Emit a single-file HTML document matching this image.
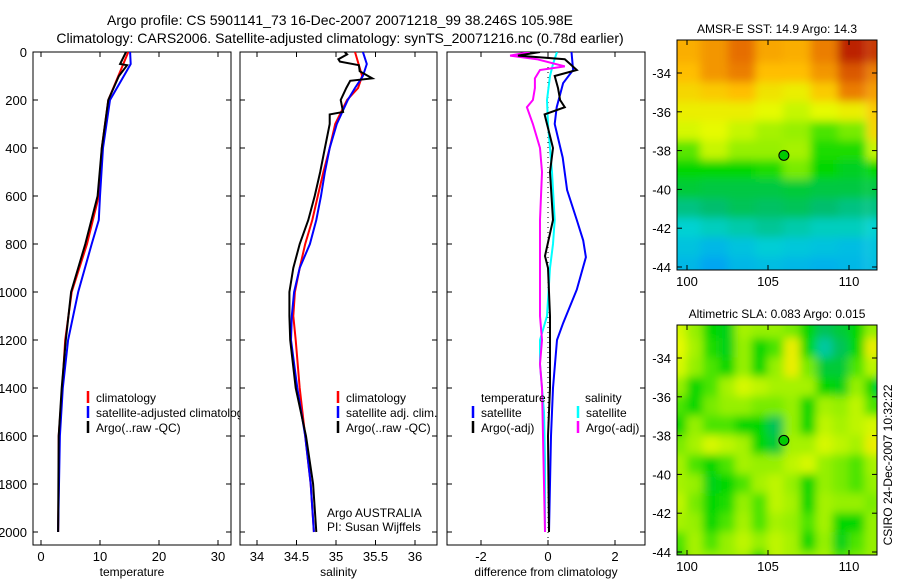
<!DOCTYPE html>
<html><head><meta charset="utf-8"><style>
body{margin:0;background:#fff}
svg{display:block;font-family:"Liberation Sans",sans-serif}
</style></head><body>
<svg id="fig" width="900" height="580" viewBox="0 0 900 580">
<defs>
<filter id="blur" filterUnits="userSpaceOnUse" x="600" y="0" width="300" height="580"><feGaussianBlur stdDeviation="4.5"/></filter>
<clipPath id="c1"><rect x="33" y="52" width="198" height="493"/></clipPath>
<clipPath id="c1l"><rect x="33" y="52" width="207" height="493"/></clipPath>
<clipPath id="c2"><rect x="240" y="52" width="197" height="493"/></clipPath>
<clipPath id="c3"><rect x="447" y="52" width="198" height="493"/></clipPath>
<clipPath id="m1"><rect x="677" y="40" width="200" height="230"/></clipPath>
<clipPath id="m2"><rect x="677" y="325" width="200" height="230"/></clipPath>
</defs>
<text x="340" y="25" font-size="14" text-anchor="middle">Argo profile: CS 5901141_73 16-Dec-2007 20071218_99 38.246S 105.98E</text>
<text x="340" y="43" font-size="14" text-anchor="middle">Climatology: CARS2006. Satellite-adjusted climatology: synTS_20071216.nc (0.78d earlier)</text>
<g id="layer"></g>
</svg>
<script>
// ---- profile data (depth in m) ----
const tempDepthRed=[0,200,400,600,800,1000,1200,1400,1600,1800,2000];
const tempRed=[14.8,11.4,10.3,9.8,7.8,5.2,4.1,3.6,3.0,3.0,2.9];
const tempDepthBlue=[0,50,200,400,600,700,800,1000,1200,1400,1600,2000];
const tempBlue=[15.1,15.2,11.7,10.5,10.0,9.8,8.6,6.3,4.6,3.7,3.2,2.9];
const tempDepthBlack=[0,50,55,100,200,400,600,800,1000,1200,1400,1600,2000];
const tempBlack=[14.4,13.4,14.6,13.2,11.4,10.3,9.6,7.5,5.1,4.2,3.5,3.0,2.9];

const salDepthBlack=[0,10,30,40,55,80,110,120,150,200,250,260,300,400,500,600,700,800,900,1000,1100,1200,1400,1600,1800,2000];
const salBlack=[35.11,35.14,35.03,35.05,35.29,35.30,35.46,35.18,35.13,35.06,35.09,34.92,34.92,34.86,34.80,34.73,34.65,34.54,34.46,34.41,34.41,34.42,34.49,34.62,34.71,34.75];
const salDepthRed=[0,100,150,200,300,400,500,600,700,800,900,1000,1100,1200,1400,1600,1800,2000];
const salRed=[35.24,35.33,35.28,35.14,34.99,34.92,34.84,34.77,34.70,34.61,34.54,34.48,34.46,34.49,34.54,34.61,34.68,34.72];
const salDepthBlue=[0,50,100,150,200,300,400,500,600,700,800,900,1000,1100,1200,1400,1600,1800,2000];
const salBlue=[35.34,35.39,35.34,35.24,35.15,35.01,34.92,34.86,34.81,34.75,34.67,34.54,34.47,34.44,34.43,34.51,34.61,34.68,34.72];

const diffDepthTSat=[0,75,130,230,300,440,575,700,785,855,990,1130,1200,1400,1600,2000];
const diffTSat=[0.7,0.75,0.45,0.26,0.2,0.44,0.57,0.86,1.05,1.13,0.86,0.45,0.27,0.15,0.09,0.03];
const diffDepthTArgo=[0,15,30,75,100,150,200,230,260,300,400,500,700,850,900,1100,1200,1400,1600,2000];
const diffTArgo=[-0.24,-0.9,0.5,0.86,0.2,0.3,0.36,0.5,-0.1,-0.03,0.15,0.06,0.15,-0.09,0.0,0.06,0.06,0.06,0.0,0.03];
const diffDepthSArgo=[0,15,30,60,75,110,150,200,230,300,400,500,700,900,1100,1200,1300,1400,1600,2000];
const diffSArgo=[-0.54,-1.13,-0.33,0.5,-0.24,-0.39,-0.39,-0.45,-0.63,-0.45,-0.24,-0.18,-0.24,-0.24,-0.24,-0.18,-0.24,-0.18,-0.15,-0.09];
const diffDepthSSat=[0,50,100,200,300,500,700,800,900,1100,1200,1300,1500,1700,2000];
const diffSSat=[0.27,0.15,0.06,-0.03,0.0,0.12,0.2,0.15,0.06,-0.03,-0.24,-0.24,-0.12,-0.09,-0.09];

// ---- map data (normalized colour value, rows north->south) ----
const sstLats=[-33,-34,-35,-36,-37,-38,-39,-40,-41,-42,-43,-44];
const sstLons=[100,101.7,103.4,105.1,106.8,108.5,110.2,112];
const sstRows=[
[0.82,0.85,0.9,0.83,0.82,0.88,0.97,0.95],
[0.8,0.85,0.88,0.8,0.8,0.85,0.92,0.88],
[0.76,0.78,0.8,0.74,0.72,0.78,0.88,0.84],
[0.72,0.72,0.72,0.7,0.66,0.7,0.72,0.78],
[0.68,0.7,0.66,0.62,0.6,0.55,0.58,0.76],
[0.56,0.66,0.6,0.6,0.62,0.52,0.52,0.66],
[0.5,0.5,0.5,0.52,0.58,0.5,0.47,0.5],
[0.45,0.44,0.44,0.44,0.45,0.44,0.44,0.44],
[0.38,0.4,0.42,0.41,0.42,0.4,0.38,0.38],
[0.3,0.32,0.34,0.36,0.34,0.32,0.32,0.3],
[0.24,0.2,0.24,0.28,0.26,0.24,0.22,0.24],
[0.2,0.14,0.2,0.22,0.2,0.18,0.2,0.22]];
const slaLats=[-32.5,-33.5,-34.5,-35.5,-36.5,-37.5,-38.5,-39.5,-40.5,-41.5,-42.5,-43.5,-44.5];
const slaLons=[99.5,100.5,101.5,102.5,103.5,104.5,105.5,106.5,107.5,108.5,109.5,110.5,111.5,112.5];
const slaRows=[
[0.68,0.6,0.5,0.48,0.62,0.6,0.6,0.58,0.5,0.42,0.45,0.5,0.6,0.55],
[0.7,0.62,0.52,0.48,0.6,0.5,0.55,0.72,0.5,0.35,0.42,0.5,0.72,0.55],
[0.68,0.6,0.55,0.5,0.6,0.5,0.6,0.72,0.58,0.45,0.45,0.55,0.65,0.5],
[0.6,0.5,0.55,0.62,0.68,0.65,0.62,0.62,0.62,0.5,0.48,0.6,0.5,0.35],
[0.55,0.5,0.58,0.6,0.6,0.58,0.58,0.6,0.5,0.62,0.6,0.65,0.55,0.5],
[0.5,0.6,0.55,0.55,0.5,0.5,0.42,0.6,0.5,0.65,0.62,0.65,0.68,0.62],
[0.58,0.62,0.68,0.65,0.62,0.5,0.45,0.62,0.62,0.68,0.65,0.62,0.72,0.7],
[0.62,0.55,0.5,0.55,0.62,0.6,0.6,0.65,0.68,0.6,0.58,0.55,0.62,0.65],
[0.62,0.6,0.48,0.5,0.55,0.62,0.65,0.6,0.5,0.6,0.58,0.55,0.6,0.6],
[0.65,0.58,0.5,0.52,0.6,0.55,0.65,0.62,0.5,0.62,0.6,0.6,0.58,0.62],
[0.62,0.6,0.5,0.55,0.62,0.55,0.62,0.6,0.55,0.62,0.5,0.5,0.6,0.55],
[0.55,0.62,0.55,0.6,0.65,0.6,0.65,0.62,0.5,0.6,0.48,0.55,0.6,0.55],
[0.5,0.62,0.6,0.6,0.62,0.5,0.65,0.62,0.6,0.62,0.55,0.58,0.6,0.5]];

const depthTicks=[0,200,400,600,800,1000,1200,1400,1600,1800,2000];
const tempTicks=[0,10,20,30];
const salTicks=[34,34.5,35,35.5,36];
const diffTicks=[-2,0,2];
const latTicks=[-34,-36,-38,-40,-42,-44];
const lonTicks=[100,105,110];

const NS="http://www.w3.org/2000/svg";
const layer=document.getElementById('layer');
function mk(tag,attrs,parent){const e=document.createElementNS(NS,tag);for(const k in attrs)e.setAttribute(k,attrs[k]);(parent||layer).appendChild(e);return e;}
const yD=d=>52+d*0.24;
const xT=v=>41+v*5.9;
const xS=v=>257+(v-34)*79;
const xDf=v=>548+v*33.5;

function line(xs,ds,fx,color,clip,name,w){
  const pts=xs.map((v,i)=>fx(v).toFixed(1)+","+yD(ds[i]).toFixed(1)).join(" ");
  const p=mk('polyline',{points:pts,fill:'none',stroke:color,'stroke-width':w||2,'clip-path':'url(#'+clip+')'});
  
  
}
function panel(x,w,ticks,fx,tickFmt,xlabel,name,showY){
  const g=mk('g',{});
  
  
  mk('rect',{x:x,y:52,width:w,height:493,fill:'none',stroke:'#000','stroke-width':1},g);
  depthTicks.forEach(d=>{
    mk('line',{x1:x,x2:x+5,y1:yD(d),y2:yD(d),stroke:'#000'},g);
    mk('line',{x1:x+w-5,x2:x+w,y1:yD(d),y2:yD(d),stroke:'#000'},g);
    if(showY){const t=mk('text',{x:x-6,y:yD(d)+5,'font-size':13,'text-anchor':'end'},g);t.textContent=d;
      
      }
  });
  ticks.forEach(v=>{
    const px=fx(v);
    mk('line',{x1:px,x2:px,y1:52,y2:57,stroke:'#000'},g);
    mk('line',{x1:px,x2:px,y1:540,y2:545,stroke:'#000'},g);
    const t=mk('text',{x:px,y:561,'font-size':13,'text-anchor':'middle'},g);t.textContent=tickFmt(v);
    
    
  });
  const l=mk('text',{x:x+w/2,y:576,'font-size':12,'text-anchor':'middle'},g);l.textContent=xlabel;
  
  
}
panel(33,198,tempTicks,xT,v=>v,'temperature','temperature-panel',true);
panel(240,197,salTicks,xS,v=>v,'salinity','salinity-panel',false);
panel(447,198,diffTicks,xDf,v=>v,'difference from climatology','difference-panel',false);

const z=mk('line',{x1:xDf(0),x2:xDf(0),y1:52,y2:545,stroke:'#000','stroke-dasharray':'1,4'});



line(tempRed,tempDepthRed,xT,'#f00','c1','temp-climatology-line');
line(tempBlue,tempDepthBlue,xT,'#00f','c1','temp-satellite-line');
line(tempBlack,tempDepthBlack,xT,'#000','c1','temp-argo-line');
line(salRed,salDepthRed,xS,'#f00','c2','sal-climatology-line');
line(salBlue,salDepthBlue,xS,'#00f','c2','sal-satellite-line');
line(salBlack,salDepthBlack,xS,'#000','c2','sal-argo-line');
line(diffTSat,diffDepthTSat,xDf,'#00f','c3','diff-temp-satellite-line');
line(diffSSat,diffDepthSSat,xDf,'#0ff','c3','diff-sal-satellite-line');
line(diffSArgo,diffDepthSArgo,xDf,'#f0f','c3','diff-sal-argo-line');
line(diffTArgo,diffDepthTArgo,xDf,'#000','c3','diff-temp-argo-line');

function legend(x,y,items,clip,name){
  const g=mk('g',{'clip-path':'url(#'+clip+')'});
  
  
  items.forEach((it,i)=>{
    const yy=y+i*15;
    if(it[0]) mk('line',{x1:x,x2:x,y1:yy-11,y2:yy+1,stroke:it[0],'stroke-width':2.5},g);
    const t=mk('text',{x:x+(it[0]?8:0),y:yy,'font-size':12},g);t.textContent=it[1];
  });
}
legend(88,402,[['#f00','climatology'],['#00f','satellite-adjusted climatology'],['#000','Argo(..raw -QC)']],'c1l','temp-legend');
legend(338,402,[['#f00','climatology'],['#00f','satellite adj. clim.'],['#000','Argo(..raw -QC)']],'c2','sal-legend');
legend(481,402,[[null,'temperature']],'c3','diff-legend-temp-head');
legend(473,417,[['#00f','satellite'],['#000','Argo(-adj)']],'c3','diff-legend-temp');
legend(585,402,[[null,'salinity']],'c3','diff-legend-sal-head');
legend(578,417,[['#0ff','satellite'],['#f0f','Argo(-adj)']],'c3','diff-legend-sal');
const a1=mk('text',{x:327,y:517,'font-size':12});a1.textContent='Argo AUSTRALIA';


const a2=mk('text',{x:327,y:531,'font-size':12});a2.textContent='PI: Susan Wijffels';



// custom colormap (blue -> cyan -> green -> yellow -> orange -> dark red)
const cmStops=[[0,[0,110,255]],[0.15,[0,170,240]],[0.3,[0,210,210]],[0.4,[0,190,110]],[0.5,[0,215,0]],[0.6,[150,240,0]],[0.7,[230,250,0]],[0.8,[255,190,0]],[0.9,[230,110,0]],[1,[170,0,0]]];
function cmap(v){
  v=Math.max(0,Math.min(1,v));
  for(let i=1;i<cmStops.length;i++){
    if(v<=cmStops[i][0]){
      const a=cmStops[i-1],b=cmStops[i],t=(v-a[0])/(b[0]-a[0]);
      const c=a[1].map((x,k)=>Math.round(x+(b[1][k]-x)*t));
      return `rgb(${c[0]},${c[1]},${c[2]})`;
    }
  }
}
function map(y0,lats,lons,rows,title,name,clip){
  const yL=lat=>y0+33+(-34-lat)*19.4;
  const xL=lon=>687+(lon-100)*16.2;
  const g=mk('g',{});
  
  
  const cg=mk('g',{'clip-path':'url(#'+clip+')'},g);
  const hg=mk('g',{filter:'url(#blur)'},cg);
  const dx=(lons[1]-lons[0]),dy=Math.abs(lats[1]-lats[0]);
  const nr=rows.length,nc=rows[0].length;
  rows.forEach((row,i)=>row.forEach((v,j)=>{
    let x0=xL(lons[j]-dx/2)-0.5,x1=xL(lons[j]+dx/2)+0.5;
    let ya=yL(lats[i]+dy/2)-0.5,yb=yL(lats[i]-dy/2)+0.5;
    if(j===0)x0-=30; if(j===nc-1)x1+=30;
    if(i===0)ya-=30; if(i===nr-1)yb+=30;
    const r=mk('rect',{x:x0,y:ya,width:x1-x0,height:yb-ya,fill:cmap(v)},hg);
    
    
  }));
  mk('circle',{cx:xL(105.98),cy:yL(-38.246),r:5,fill:'#0c0',stroke:'#000','stroke-width':1},g);
  mk('rect',{x:677,y:y0,width:200,height:230,fill:'none',stroke:'#000'},g);
  latTicks.forEach(l=>{
    mk('line',{x1:677,x2:682,y1:yL(l),y2:yL(l),stroke:'#000'},g);
    mk('line',{x1:872,x2:877,y1:yL(l),y2:yL(l),stroke:'#000'},g);
    const t=mk('text',{x:671,y:yL(l)+5,'font-size':13,'text-anchor':'end'},g);t.textContent=l;
  });
  lonTicks.forEach(l=>{
    mk('line',{x1:xL(l),x2:xL(l),y1:y0+225,y2:y0+230,stroke:'#000'},g);
    mk('line',{x1:xL(l),x2:xL(l),y1:y0,y2:y0+5,stroke:'#000'},g);
    const t=mk('text',{x:xL(l),y:y0+246,'font-size':13,'text-anchor':'middle'},g);t.textContent=l;
  });
  const t=mk('text',{x:777,y:y0-7,'font-size':12,'text-anchor':'middle'},g);t.textContent=title;
}
map(40,sstLats,sstLons,sstRows,'AMSR-E SST: 14.9 Argo: 14.3','sst-map','m1');
map(325,slaLats,slaLons,slaRows,'Altimetric SLA: 0.083 Argo: 0.015','sla-map','m2');
const cs=mk('text',{x:0,y:0,'font-size':12,'text-anchor':'middle',transform:'translate(892,465) rotate(-90)'});
cs.textContent='CSIRO 24-Dec-2007 10:32:22';


</script>
</body></html>
